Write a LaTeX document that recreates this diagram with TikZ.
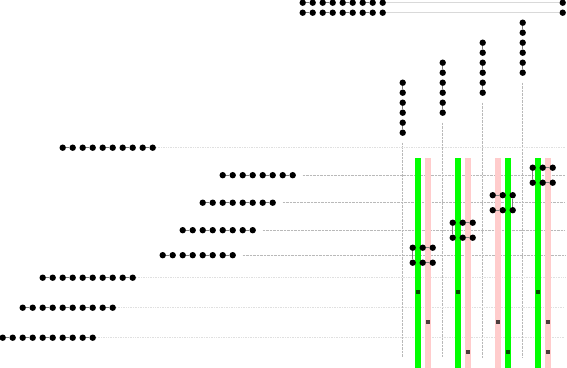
\documentclass[tikz,border=0pt]{standalone}
\usetikzlibrary{calc}
\definecolor{barG}{RGB}{0,255,0}
\definecolor{barP}{RGB}{255,204,204}
\tikzset{
  dot/.style={circle,fill=black,inner sep=0pt,minimum size=3.2mm},
  pairlink/.style={draw=gray,line width=1pt},
  longlink/.style={draw=black!15,line width=2.2pt},
  guide/.style={draw=gray!55,line width=0.6pt,dash pattern=on 0.7pt off 1.3pt},
  faint/.style={draw=black!12,line width=1.3pt,dash pattern=on 1.2pt off 1.2pt},
  tinymark/.style={rectangle,fill=black,fill opacity=0.7,inner sep=0pt,minimum size=2.1mm},
}

\begin{document}
\begin{tikzpicture}[x=5mm,y=-5mm]
  \useasboundingbox (-0.27,-0.27) rectangle (56.43,36.53);

  % 顶部两行
  \foreach \j in {0,1} {
    \foreach \k in {1,...,9} {
      \pgfmathsetmacro\xx{29+\k}
      \node[dot] (t\j-\k) at (\xx,\j) {};
    }
    \node[dot] (t\j-end) at (56,\j) {};
    \draw[longlink] (t\j-9) -- (t\j-end);
    \foreach \k in {1,3,...,8} {
      \pgfmathtruncatemacro\kk{\k+1}
      \draw[pairlink] (t\j-\k) -- (t\j-\kk);
    }
  }

  % 竖列
  \foreach \c/\x/\y in {1/40/8, 2/44/6, 3/48/4, 4/52/2} {
    \foreach \k in {1,...,6} {
      \pgfmathsetmacro\yy{\y+\k-1}
      \node[dot] (v\c-\k) at (\x,\yy) {};
    }
    \foreach \k in {1,3,5} {
      \pgfmathtruncatemacro\kk{\k+1}
      \draw[pairlink] (v\c-\k) -- (v\c-\kk);
    }
    \coordinate (vs\c) at (\x,\y+6);
    \coordinate (vb\c) at (\x,35.45);
    \draw[guide] (vs\c) -- (vb\c);
  }

  % 横行
  \foreach \r/\y/\a/\n in {1/14.5/6/10, 2/17.25/22/8, 3/20/20/8, 4/22.75/18/8,
                          5/25.25/16/8, 6/27.5/4/10, 7/30.5/2/10, 8/33.5/0/10} {
    \foreach \k in {1,...,\n} {
      \pgfmathsetmacro\xx{\a+\k-1}
      \node[dot] (r\r-\k) at (\xx,\y) {};
    }
    \pgfmathtruncatemacro\m{\n-1}
    \foreach \k in {1,3,...,\m} {
      \pgfmathtruncatemacro\kk{\k+1}
      \draw[pairlink] (r\r-\k) -- (r\r-\kk);
    }
    \coordinate (re\r) at (56.2,\y);
  }
  \foreach \r in {1,6,7,8}
    \draw[faint] (r\r-10.east) -- (re\r);
  \foreach \r/\s in {2/30,3/28,4/26,5/24} {
    \coordinate (rs\r) at (\s,0 |- re\r);
    \draw[guide] (rs\r) -- (re\r);
  }

  % 竖条
  \foreach \x/\c in {41.55/barG, 42.55/barP, 45.55/barG, 46.55/barP,
                     49.55/barP, 50.55/barG, 53.55/barG, 54.55/barP}
    \fill[\c] (\x-0.28,15.5) rectangle (\x+0.28,36.7);

  % 小方块
  \foreach \n/\x/\y in {1/41.55/28.9, 2/45.55/28.9, 3/53.55/28.9,
                        4/42.55/31.9, 5/49.55/31.9, 6/54.55/31.9,
                        7/46.55/34.9, 8/50.55/34.9, 9/54.55/34.9}
    \node[tinymark] (m\n) at (\x,\y) {};

  % 2x3 点阵
  \foreach \b/\x/\y/\vc/\hc in {1/41/24.5/1/2, 2/45/22/1/2, 3/49/19.25/3/1, 4/53/16.5/1/2} {
    \foreach \i in {1,2} {
      \foreach \k in {1,2,3} {
        \node[dot] (b\b-\i-\k) at ({\x+\k-1},{\y+1.5*(\i-1)}) {};
      }
      \pgfmathtruncatemacro\hh{\hc+1}
      \draw[pairlink] (b\b-\i-\hc) -- (b\b-\i-\hh);
    }
    \draw[pairlink] (b\b-1-\vc) -- (b\b-2-\vc);
  }
\end{tikzpicture}
\end{document}
